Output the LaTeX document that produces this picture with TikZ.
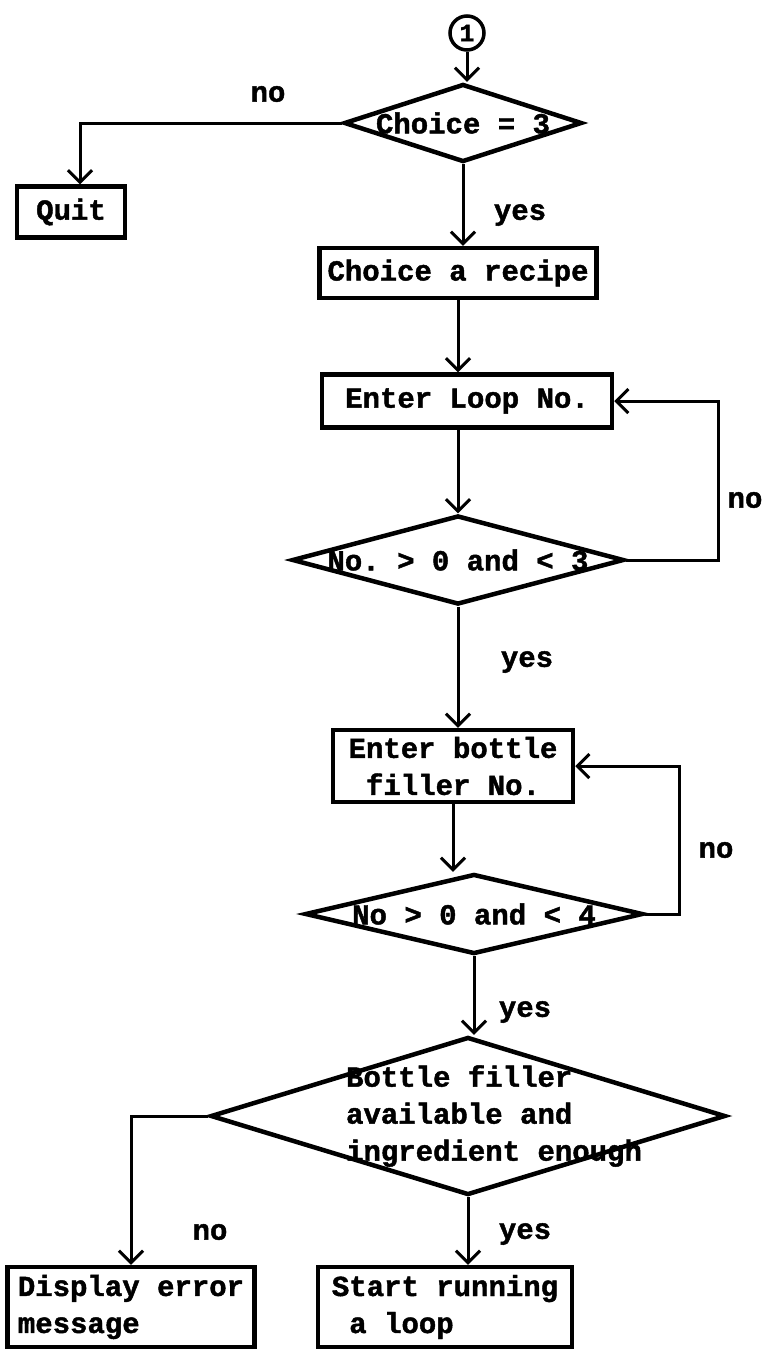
\documentclass[tikz,border=0pt]{standalone}
\usepackage{fontspec}
\setmonofont{Liberation Mono}[BoldFeatures={FakeBold=1.5}]
\usetikzlibrary{arrows.meta,positioning,shapes.geometric}
\tikzset{
  txt/.style={font=\ttfamily\bfseries\fontsize{29}{37}\selectfont},
  blk/.style={txt,draw,line width=4.5pt,inner sep=4pt,align=center},
  dia/.style={draw,diamond,line width=4.5pt,inner sep=0pt},
  conn/.style={circle,draw,line width=3.5pt,minimum size=34pt,inner sep=0pt,
               font=\ttfamily\bfseries\fontsize{25}{27}\selectfont},
  lbl/.style={txt,inner sep=0pt},
  arr/.style={-{Straight Barb[length=12pt,width=24pt]},line width=3pt},
}

\begin{document}
\begin{tikzpicture}[x=1pt,y=1pt]
  \useasboundingbox (0,0) rectangle (763,-1350);

  \node[conn] (one) at (467,-33) {1};
  \node[dia,minimum width=238pt,minimum height=78pt,label={[lbl]center:{Choice = 3}}] (ch3) at (463,-123) {};
  \node[blk,minimum width=108pt,minimum height=51pt] (quit) at (71,-212) {Quit};
  \node[blk,minimum width=277pt,minimum height=50pt] (rec) at (458,-273) {Choice a recipe};
  \node[blk,minimum width=290pt,minimum height=53pt] (loop) at (467,-401) {Enter Loop No.};
  \node[dia,minimum width=332pt,minimum height=89pt,label={[lbl]center:{No. > 0 and < 3}}] (chk3) at (458,-560) {};
  \node[blk,minimum width=240pt,minimum height=72pt,inner sep=2pt] (bot) at (453,-766) {Enter bottle\\filler No.};
  \node[dia,minimum width=338pt,minimum height=80pt,label={[lbl]center:{No > 0 and < 4}}] (chk4) at (474,-914) {};
  \node[dia,minimum width=515pt,minimum height=158pt,
        label={[lbl,align=left,xshift=26pt]center:{Bottle filler\\available and\\ingredient enough}}] (avl) at (468,-1116) {};
  \node[blk,align=left,minimum width=247pt,minimum height=80pt,inner sep=2pt] (err) at (131,-1307) {Display error\\message};
  \node[blk,align=left,minimum width=254pt,minimum height=80pt,inner sep=2pt] (run) at (445,-1307) {Start running\\\hspace*{0.6em}a loop};

  % branch labels
  \node[lbl] (no1) at (268,-94) {no};
  \node[lbl] (yes1) at (520,-215) {yes};
  \node[lbl] (no2) at (745,-500) {no};
  \node[lbl] (yes2) at (527,-662) {yes};
  \node[lbl] (no3) at (716,-850) {no};
  \node[lbl] (yes3) at (525,-1012) {yes};
  \node[lbl] (no4) at (210,-1232) {no};
  \node[lbl] (yes4) at (525,-1234) {yes};

  \draw[arr] (one.south) -- (one.south |- ch3.north);
  \draw[arr] (ch3.west) -| ([xshift=9pt]quit.north);
  \draw[arr] (ch3.south) -- (ch3.south |- rec.north);
  \draw[arr] (rec.south) -- (rec.south |- loop.north);
  \draw[arr] (chk3.north |- loop.south) -- (chk3.north);
  \draw[arr] (chk3.east) -- ++(92,0) |- (loop.east);
  \draw[arr] (chk3.south) -- (chk3.south |- bot.north);
  \draw[arr] (bot.south) -- (bot.south |- chk4.north);
  \draw[arr] (chk4.east) -- ++(34,0) |- (bot.east);
  \draw[arr] (chk4.south) -- (chk4.south |- avl.north);
  \draw[arr] (avl.west) -| (err.north);
  \draw[arr] (avl.south) -- (avl.south |- run.north);
\end{tikzpicture}
\end{document}
